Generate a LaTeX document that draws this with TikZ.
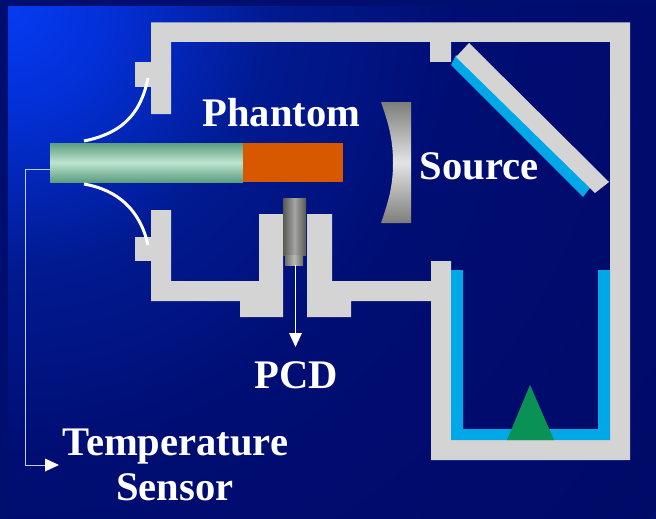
\documentclass[tikz,border=0pt]{standalone}
\usepackage{fontspec}
\setmainfont{Liberation Serif}
\definecolor{wall}{HTML}{D4D4D4}
\definecolor{bathblue}{HTML}{00A8E8}
\definecolor{frameblue}{HTML}{000E70}
\definecolor{sensorline}{HTML}{C4CAF0}
\definecolor{bga}{HTML}{053CF0}
\definecolor{bgb}{HTML}{0330D8}
\definecolor{bgc}{HTML}{011A90}
\definecolor{bgd}{HTML}{000D72}
\definecolor{bge}{HTML}{000A66}
\definecolor{bgf}{HTML}{00064A}
\definecolor{bgg}{HTML}{000222}
\definecolor{bgh}{HTML}{00000C}
\pgfdeclareradialshading{slidebg}{\pgfpointorigin}{
  color(0bp)=(bga);
  color(3bp)=(bgb);
  color(8bp)=(bgc);
  color(14bp)=(bgd);
  color(26bp)=(bge);
  color(35bp)=(bgf);
  color(44bp)=(bgg);
  color(51bp)=(bgh);
  color(70bp)=(bgh)}
\tikzset{
  wallpart/.style={fill=wall},
  bluepart/.style={fill=bathblue},
  wire/.style={draw=white,line width=3pt},
  label/.style={text=white,font=\fontsize{40.6}{41}\selectfont\bfseries,anchor=base,inner sep=0pt},
  lead/.style={draw=sensorline,line width=1pt},
  pcdlead/.style={draw=white,line width=1pt}
}
\begin{document}
\begin{tikzpicture}[x=1pt,y=-1pt]
\useasboundingbox (0,0) rectangle (656,519);
\begin{scope}
\clip (0,0) rectangle (656,519);
\fill[frameblue] (0,0) rectangle (656,519);
\clip (8,7) rectangle (656,519);
\shade[shading=slidebg] (8,7) circle[radius=820];
\end{scope}
% housing
\fill[wallpart] (151,22.5) -- (630,22.5) -- (630,460) -- (431,460) -- (431,301) -- (351,301) -- (351,317) -- (307,317) -- (307,214) -- (332,214) -- (332,281) -- (431,281) -- (431,261) -- (451,261) -- (451,440) -- (610,440) -- (610,42) -- (451,42) -- (451,62) -- (430,62) -- (430,42) -- (171,42) -- (171,114) -- (151,114) -- cycle;
\fill[wallpart] (151,210) -- (171,210) -- (171,281) -- (259,281) -- (259,214) -- (283,214) -- (283,317) -- (240,317) -- (240,301) -- (151,301) -- cycle;
\fill[wallpart] (135,62) rectangle (151,87);
\fill[wallpart] (135,237) rectangle (151,261);
% water bath
\fill[bluepart] (451,270) -- (463,270) -- (463,429) -- (598,429) -- (598,270) -- (610,270) -- (610,440) -- (451,440) -- cycle;
\fill[fill={rgb,255:red,10;green,145;blue,85}] (530,385) -- (554,440) -- (507,440) -- cycle;
% reflector
\fill[bluepart] (456,55) -- (590,188) -- (583,197) -- (451,65) -- cycle;
\fill[wallpart] (469,43) -- (609,182) -- (595,193) -- (456,57) -- cycle;
% lens
\shade[top color={rgb,255:red,125;green,125;blue,122},bottom color={rgb,255:red,125;green,125;blue,122},middle color={rgb,255:red,228;green,228;blue,228}]
  (381,102) -- (411,102) -- (411,223) -- (381,223) .. controls (389,200) and (393,185) .. (393,163) .. controls (393,140) and (389,125) .. (381,102) -- cycle;
% tube and phantom
\shade[top color={rgb,255:red,92;green,158;blue,128},bottom color={rgb,255:red,92;green,158;blue,128},middle color={rgb,255:red,190;green,228;blue,205}] (50,143) rectangle (243,182);
\fill[fill={rgb,255:red,216;green,88;blue,0}] (243,143) rectangle (343,182);
\coordinate (tubeEnd) at (50,169);
\coordinate (sensorCorner) at (25,169);
\coordinate (sensorTurn) at (25,465);
\coordinate (sensorTip) at (59,465);
\draw[lead] (tubeEnd) -- (sensorCorner) -- (sensorTurn) -- (46,465);
\fill[white] (sensorTip) -- (45,458.5) -- (45,471.5) -- cycle;
% wires
\coordinate (wireUa) at (84,141);
\coordinate (wireUb) at (148,78);
\coordinate (wireLa) at (84,184);
\coordinate (wireLb) at (148,245);
\draw[wire] (wireUa) .. controls (118,134) and (140,118) .. (wireUb);
\draw[wire] (wireLa) .. controls (118,190) and (140,210) .. (wireLb);
% PCD probe
\shade[left color={rgb,255:red,88;green,88;blue,84},right color={rgb,255:red,88;green,88;blue,84},middle color={rgb,255:red,165;green,165;blue,165}] (283,198) rectangle (306,255);
\shade[left color={rgb,255:red,110;green,110;blue,105},right color={rgb,255:red,110;green,110;blue,105},middle color={rgb,255:red,185;green,185;blue,180}] (285,255) rectangle (303,265);
\coordinate (probeEnd) at (295.5,265);
\coordinate (probeTip) at (295.5,347);
\draw[pcdlead] (probeEnd) -- (295.5,334);
\fill[white] (probeTip) -- (289,333) -- (302,333) -- cycle;
% labels
\node[label] (phantom) at (281.5,126) {Phantom};
\node[label] (source) at (479,179) {Source};
\node[label] (pcd) at (296,388) {PCD};
\node[label] (temp) at (175.5,455) {Temperature};
\node[label] (sensor) at (175,500) {Sensor};
\end{tikzpicture}
\end{document}
